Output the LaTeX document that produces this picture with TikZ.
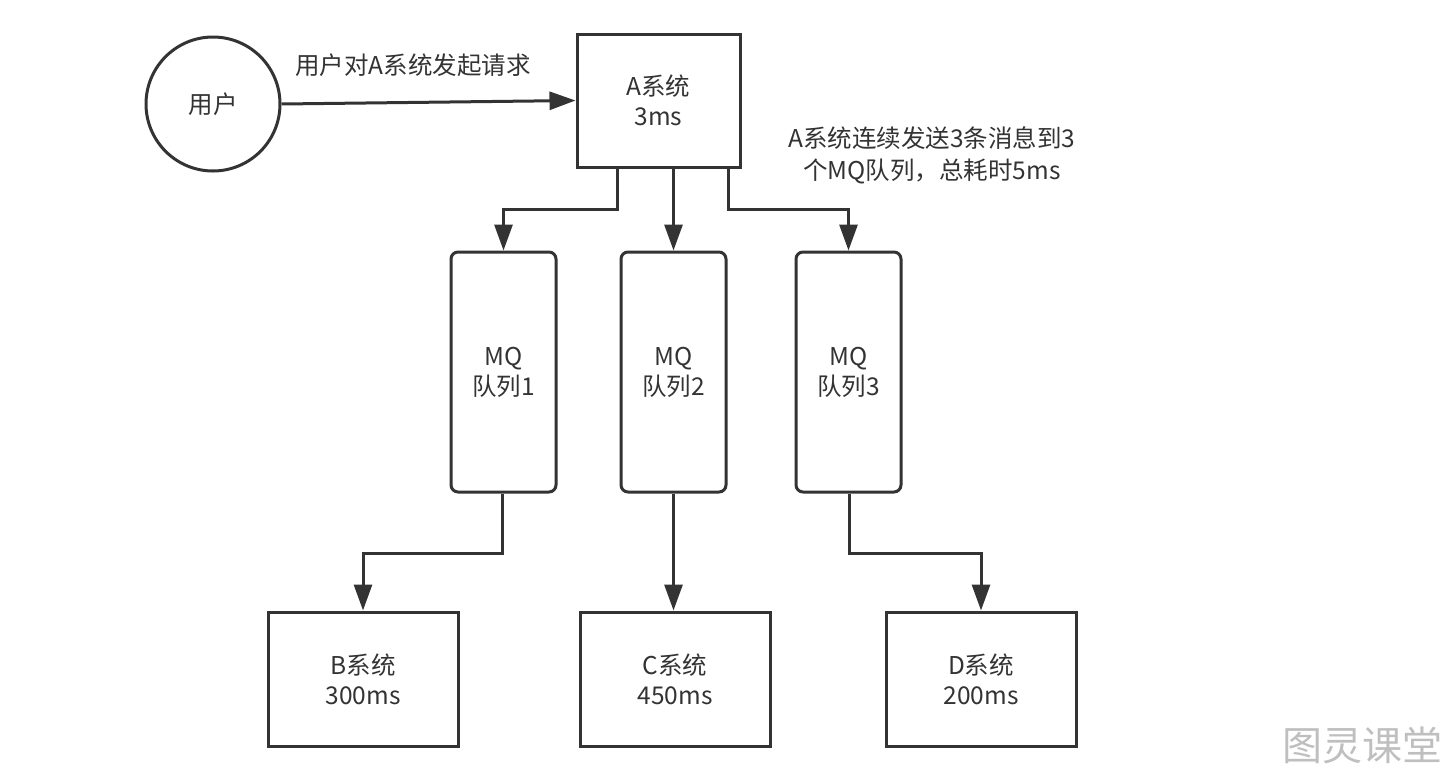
\documentclass[tikz,border=0pt]{standalone}
\usepackage{fontspec}
\setmainfont{Noto Sans CJK SC}
\usetikzlibrary{arrows.meta}
\definecolor{ink}{HTML}{333333}
\tikzset{
  every node/.style={font=\fontsize{24.5}{30}\selectfont, text=ink},
  conn/.style={draw=ink, line width=3pt, -{Triangle[length=26pt,width=18pt]}},
  sysbox/.style={draw=ink, line width=3pt, rectangle, inner sep=0pt, align=center},
  mqbox/.style={draw=ink, line width=3pt, rectangle, rounded corners=7pt, inner sep=0pt, align=center},
}
\begin{document}
\begin{tikzpicture}[x=1pt,y=-1pt]
\useasboundingbox (0,0) rectangle (1451,780);
% user
\node[draw=ink, line width=3pt, circle, minimum size=134pt, inner sep=0pt] (user) at (213,104) {用户};
% A
\node[sysbox, minimum width=163pt, minimum height=133pt] (A) at (658.5,100.5) {A系统\\3ms};
% MQ boxes
\node[mqbox, minimum width=105pt, minimum height=240pt] (mq1) at (503.5,372) {MQ\\队列1};
\node[mqbox, minimum width=105pt, minimum height=240pt] (mq2) at (673.5,372) {MQ\\队列2};
\node[mqbox, minimum width=105pt, minimum height=240pt] (mq3) at (848.5,372) {MQ\\队列3};
% bottom systems
\node[sysbox, minimum width=190pt, minimum height=134pt] (B) at (363,679) {B系统\\300ms};
\node[sysbox, minimum width=190pt, minimum height=134pt] (C) at (675,679) {C系统\\450ms};
\node[sysbox, minimum width=190pt, minimum height=134pt] (D) at (981,679) {D系统\\200ms};
% labels
\node (lbl1) at (413,65) {用户对A系统发起请求};
\node[align=center, font=\fontsize{24.5}{32}\selectfont] (lbl2) at (932,155) {A系统连续发送3条消息到3\\个MQ队列，总耗时5ms};
% connectors
\draw[conn] (user.east) -- (A.west);
\coordinate (a1) at (617,209);
\coordinate (a3) at (728,209);
\draw[conn] (A.south -| a1) -- (a1) -| (mq1.north);
\draw[conn] (A.south -| mq2.north) -- (mq2.north);
\draw[conn] (A.south -| a3) -- (a3) -| (mq3.north);
\coordinate (b1) at (502,553);
\coordinate (b3) at (849,553);
\draw[conn] (mq1.south -| b1) -- (b1) -| (B.north);
\draw[conn] (mq2.south) -- (C.north -| mq2.south);
\draw[conn] (mq3.south -| b3) -- (b3) -| (D.north);
% watermark
\node[text=black!25, font=\fontsize{40}{44}\selectfont] (wm) at (1362,745) {图灵课堂};
\end{tikzpicture}
\end{document}
